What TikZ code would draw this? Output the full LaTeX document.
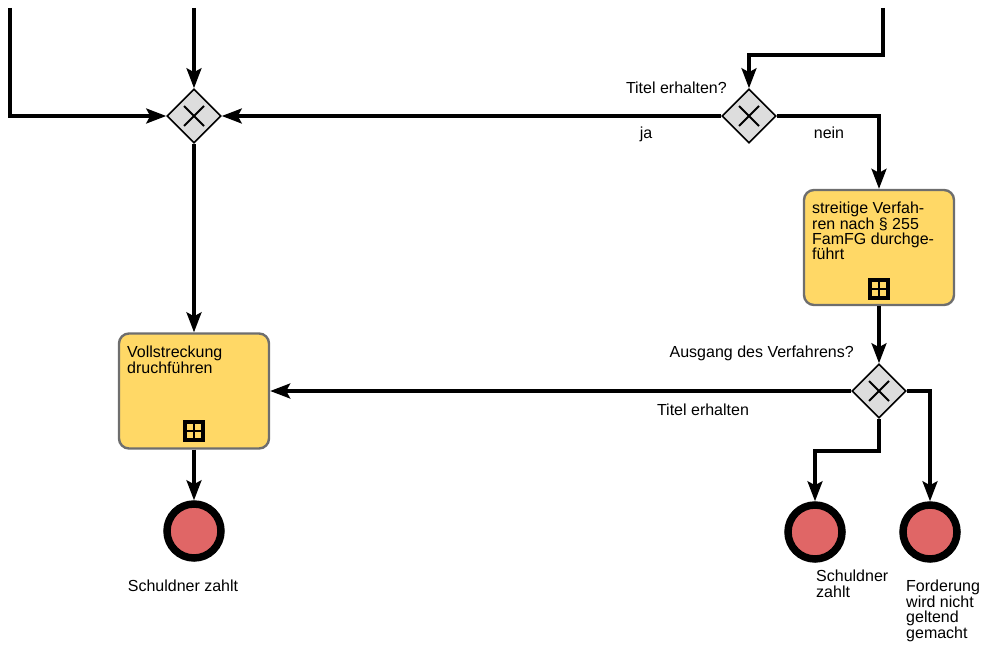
\documentclass[tikz,border=0pt]{standalone}
\usepackage{fontspec}
\setmainfont{Liberation Sans}
\usetikzlibrary{shapes.geometric,arrows.meta}
\definecolor{taskfill}{RGB}{255,216,102}
\definecolor{taskline}{RGB}{110,110,110}
\definecolor{gwfill}{RGB}{221,221,221}
\definecolor{endfill}{RGB}{224,102,102}
\tikzset{
  flow/.style={line width=3.1pt, -{Stealth[length=20pt,width=15pt,inset=4pt]}},
  gateway/.style={diamond, aspect=1, draw=black, fill=gwfill, line width=1.6pt,
     minimum width=54pt, minimum height=54pt, inner sep=0pt},
  taskbox/.style={rectangle, rounded corners=10pt, draw=taskline, fill=taskfill,
     line width=2.4pt, minimum width=150pt, minimum height=115pt, inner sep=0pt},
  endev/.style={circle, draw=black, fill=endfill, line width=7.5pt,
     minimum size=54pt, inner sep=0pt},
  lbl/.style={font=\fontsize{16}{15.4}\selectfont, inner sep=0pt},
  mltext/.style={font=\fontsize{16}{15.4}\selectfont, inner sep=0pt, align=left, anchor=north west},
  submark/.style={rectangle, draw=black, line width=3.6pt, minimum size=18pt, inner sep=0pt, fill=taskfill}
}
\newcommand{\gwx}[1]{\draw[line width=1.9pt] ([shift={(-10pt,-10pt)}]#1.center) -- ([shift={(10pt,10pt)}]#1.center);
  \draw[line width=1.9pt] ([shift={(-10pt,10pt)}]#1.center) -- ([shift={(10pt,-10pt)}]#1.center);}
\newcommand{\plusmark}[1]{\draw[line width=2.8pt] (#1.north) -- (#1.south); \draw[line width=2.8pt] (#1.west) -- (#1.east);}
\begin{document}
\begin{tikzpicture}[x=1pt,y=-1pt]
\useasboundingbox (0,0) rectangle (990,650);
% gateways
\node[gateway] (g1) at (194,116) {};
\node[gateway] (g2) at (749,116) {};
\node[gateway] (g3) at (879,391) {};
\gwx{g1}\gwx{g2}\gwx{g3}
% tasks
\node[taskbox] (t1) at (879,247.5) {};
\node[taskbox] (t2) at (194,391) {};
\node[mltext] (t1txt) at (812,202) {streitige Verfah-\\ren nach § 255\\FamFG durchge-\\führt};
\node[mltext] (t2txt) at (127,346) {Vollstreckung\\druchführen};
\node[submark] (m1) at (879,289) {};
\plusmark{m1}
\node[submark] (m2) at (194,431) {};
\plusmark{m2}
% end events
\node[endev] (e1) at (194,531) {};
\node[endev] (e2) at (815,532) {};
\node[endev] (e3) at (930,532) {};
% free ends
\coordinate (s1) at (194,8);
\coordinate (s2) at (10,8);
\coordinate (s3) at (883,8);
% connectors
\draw[flow] (s1) -- (g1.north);
\draw[flow] (s2) |- (g1.west);
\draw[flow] (g2.west) -- (g1.east);
\draw[flow] (s3) -- (883,55) -| (g2.north);
\draw[flow] (g2.east) -| (t1.north);
\draw[flow] (g1.south) -- (t2.north);
\draw[flow] (t1.south) -- (g3.north);
\draw[flow] (g3.west) -- (t2.east);
\draw[flow] (g3.south) -- (879,451) -| (e2.north);
\draw[flow] (g3.east) -| (e3.north);
\draw[flow] (t2.south) -- (e1.north);
% labels
\node[lbl, anchor=base east] (l1) at (727,94) {Titel erhalten?};
\node[lbl, anchor=base] (l2) at (646,139) {ja};
\node[lbl, anchor=base] (l3) at (829,139) {nein};
\node[lbl, anchor=base east] (l4) at (854,357) {Ausgang des Verfahrens?};
\node[lbl, anchor=base] (l5) at (703,415) {Titel erhalten};
\node[lbl, anchor=base] (l6) at (183,591) {Schuldner zahlt};
\node[mltext] (l7) at (816,570) {Schuldner\\zahlt};
\node[mltext] (l8) at (906,580) {Forderung\\wird nicht\\geltend\\gemacht};
\end{tikzpicture}
\end{document}
